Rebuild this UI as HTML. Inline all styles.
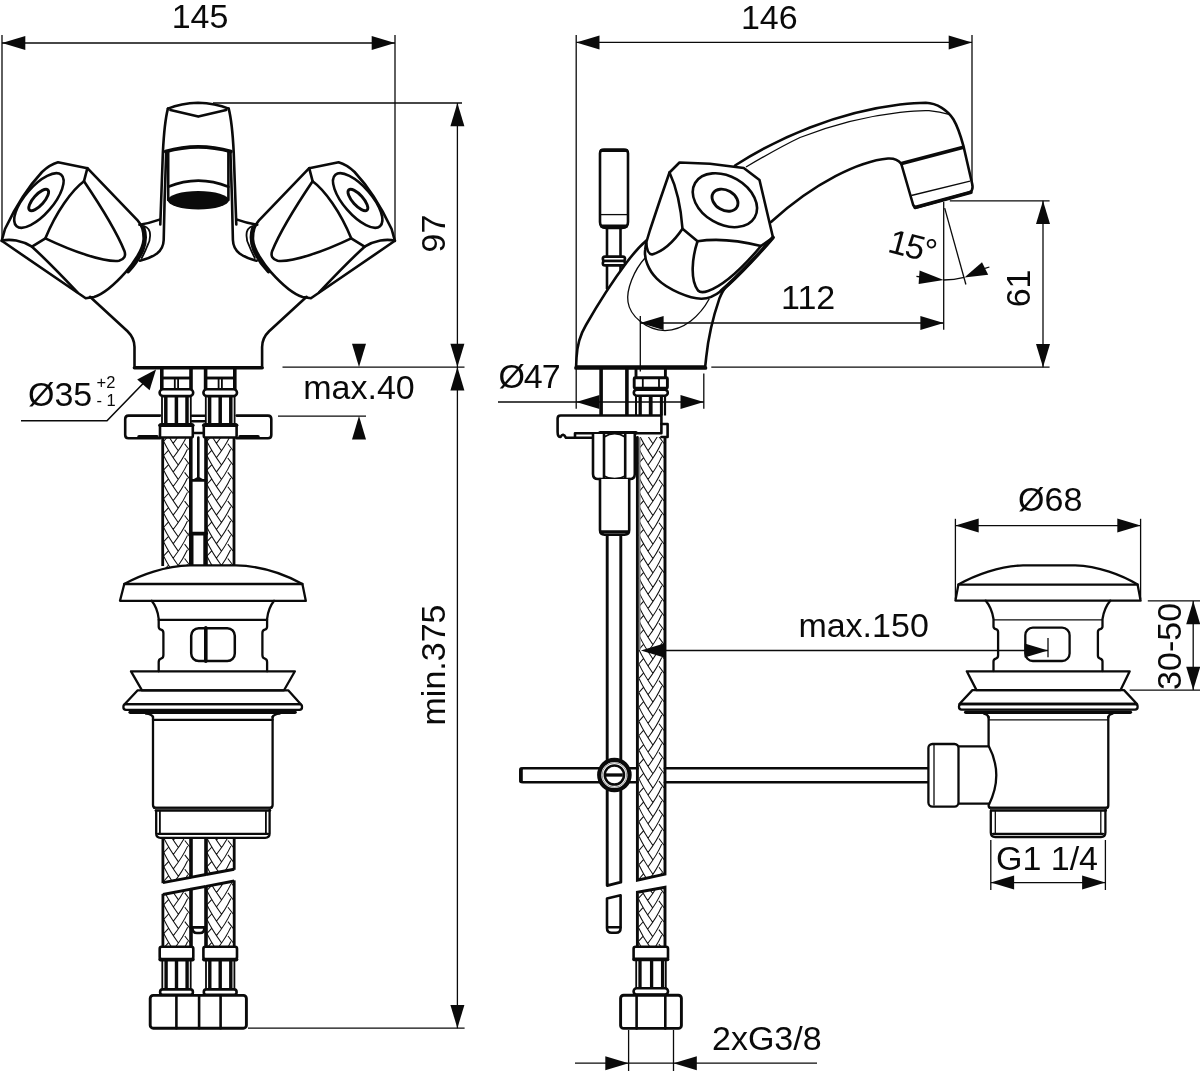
<!DOCTYPE html>
<html lang="en">
<head>
<meta charset="utf-8">
<title>Basin mixer dimensional drawing</title>
<style>
html,body{margin:0;padding:0;background:#fff;}
body{width:1200px;height:1071px;overflow:hidden;}
svg{display:block;opacity:0.999;will-change:transform;}
.k{stroke:#0a0a0a;stroke-width:2.6;fill:none;stroke-linejoin:round;stroke-linecap:round;}
.k3{stroke:#0a0a0a;stroke-width:3.6;fill:none;stroke-linejoin:round;stroke-linecap:round;}
.k25{stroke:#0a0a0a;stroke-width:2.9;fill:none;stroke-linejoin:round;stroke-linecap:butt;}
.w{stroke:#0a0a0a;stroke-width:2.6;fill:#fff;stroke-linejoin:round;stroke-linecap:round;}
.m{stroke:#0a0a0a;stroke-width:1.8;fill:none;stroke-linejoin:round;stroke-linecap:round;}
.t{stroke:#0a0a0a;stroke-width:1.3;fill:none;stroke-linecap:butt;}
.b{stroke:#111;stroke-width:1.05;fill:none;stroke-linecap:butt;}
.dr .k,.dr .w{stroke-width:2.3;}
.f{fill:#0a0a0a;stroke:none;}
text{font-family:"Liberation Sans",sans-serif;fill:#0a0a0a;}
</style>
</head>
<body>
<svg width="1200" height="1071" viewBox="0 0 1200 1071">
<rect x="0" y="0" width="1200" height="1071" fill="#fff"/>
<g id="front-view">
<path class="w" d="M58,162.3 L87.4,168.2 L137.6,220.4 C141.8,225 143.8,232 143.6,239.2 C143,250 132,265 125.9,271.9 C116,283 104,294 94,297 L85.7,298.3 L1.7,240.8 L5,229 C14,210 28,187 42,172 Q50,164.5 58,162.3 Z" />
<path class="k" d="M87.4,168.2 L84,181.2 C72,190 56,212 45.4,238.3 L32,246.7" />
<path class="k" d="M1.7,240.8 C10,238.5 22,240.5 32,246.7 C45,258.5 62,276 77.3,292.1" />
<path class="k" d="M84,181.2 C98,202 116,230 124.4,250.9 Q127,258.5 119,260.8 C104,262.5 72,251 45.4,238.3" />
<ellipse class="k" cx="38.9" cy="200.5" rx="34" ry="14" transform="rotate(-49 38.9 200.5)"/>
<ellipse class="k25" cx="38.7" cy="200" rx="13.6" ry="5.3" transform="rotate(-48 38.7 200)"/>
<path class="k" d="M139.4,224.7 Q149.5,223.2 159.5,219.6" />
<path class="m" d="M140.8,225.7 Q148,226 149.8,232 Q151,240 147.3,246 Q145,252 141.7,258" />
<path class="k3" d="M143.8,228.4 Q147,238 142.9,249.5 Q138,261 128.2,271.6" />
<g transform="translate(396.6,0) scale(-1,1)">
<path class="w" d="M58,162.3 L87.4,168.2 L137.6,220.4 C141.8,225 143.8,232 143.6,239.2 C143,250 132,265 125.9,271.9 C116,283 104,294 94,297 L85.7,298.3 L1.7,240.8 L5,229 C14,210 28,187 42,172 Q50,164.5 58,162.3 Z" />
<path class="k" d="M87.4,168.2 L84,181.2 C72,190 56,212 45.4,238.3 L32,246.7" />
<path class="k" d="M1.7,240.8 C10,238.5 22,240.5 32,246.7 C45,258.5 62,276 77.3,292.1" />
<path class="k" d="M84,181.2 C98,202 116,230 124.4,250.9 Q127,258.5 119,260.8 C104,262.5 72,251 45.4,238.3" />
<ellipse class="k" cx="38.9" cy="200.5" rx="34" ry="14" transform="rotate(-49 38.9 200.5)"/>
<ellipse class="k25" cx="38.7" cy="200" rx="13.6" ry="5.3" transform="rotate(-48 38.7 200)"/>
<path class="k" d="M139.4,224.7 Q149.5,223.2 159.5,219.6" />
<path class="m" d="M140.8,225.7 Q148,226 149.8,232 Q151,240 147.3,246 Q145,252 141.7,258" />
<path class="k3" d="M143.8,228.4 Q147,238 142.9,249.5 Q138,261 128.2,271.6" />
</g>
<path class="k" d="M167.9,108.6 C165.5,118 163.5,140 162.9,152 L160.3,224.5" />
<path class="k" d="M166.2,152 L164.6,200 L163.7,240 Q163.4,248.5 157,253.5 Q150,258.5 139.9,260.7" />
<g transform="translate(396.6,0) scale(-1,1)">
<path class="k" d="M167.9,108.6 C165.5,118 163.5,140 162.9,152 L160.3,224.5" />
<path class="k" d="M166.2,152 L164.6,200 L163.7,240 Q163.4,248.5 157,253.5 Q150,258.5 139.9,260.7" />
</g>
<path class="k" d="M167.9,108.6 Q181,103.2 198,102.7 Q215.5,103.2 228.7,108.6" />
<path class="k" d="M170.4,110 L198.3,116.6 L226.2,110" />
<path class="k3" d="M165.6,151.6 Q198.3,142.2 231,151.6" />
<line class="k" x1="168.2" y1="152" x2="168.2" y2="200" />
<line class="k" x1="228.4" y1="152" x2="228.4" y2="200" />
<path class="k" d="M168.2,186.7 Q198.3,174.5 228.4,186.7" />
<ellipse class="f" cx="198.3" cy="200.3" rx="30.6" ry="9.2"/>
<path class="k" d="M90,296.8 L127.5,331.2 Q134.5,338 134.5,347 L134.5,366" />
<g transform="translate(396.6,0) scale(-1,1)">
<path class="k" d="M90,296.8 L127.5,331.2 Q134.5,338 134.5,347 L134.5,366" />
</g>
<line class="k" x1="134.4" y1="367.7" x2="262.2" y2="367.7" style="stroke-width:3.5"/>
<path class="k" d="M160,415.6 L128.5,415.6 Q125.2,415.6 125.2,419 L125.2,435 Q125.2,438.3 128.5,438.3 L160,438.3" />
<path class="k" d="M236.6,415.6 L268,415.6 Q271.3,415.6 271.3,419 L271.3,435 Q271.3,438.3 268,438.3 L236.6,438.3" />
<line class="k3" x1="139" y1="436.9" x2="157" y2="436.9" />
<line class="k3" x1="240" y1="436.9" x2="258" y2="436.9" />
<line class="k" x1="192" y1="415.7" x2="204.6" y2="415.7" />
<line class="k" x1="192" y1="421.2" x2="204.6" y2="421.2" />
<line class="k" x1="192" y1="433" x2="204.6" y2="433" />
<line class="k3" x1="161.8" y1="368" x2="161.8" y2="390" />
<line class="k3" x1="191.0" y1="368" x2="191.0" y2="390" />
<line class="k25" x1="161.8" y1="378" x2="191.0" y2="378" />
<line class="m" x1="174.8" y1="378" x2="174.8" y2="389.4" />
<line class="m" x1="178.1" y1="378" x2="178.1" y2="389.4" />
<rect class="w" x="159.6" y="389.3" width="33.6" height="6.8" rx="3.4" />
<line class="k" x1="165.8" y1="396.2" x2="165.8" y2="424" style="stroke-width:3.5;stroke-linecap:butt"/>
<line class="k" x1="176.4" y1="396.2" x2="176.4" y2="424" style="stroke-width:3.5;stroke-linecap:butt"/>
<line class="k" x1="187.0" y1="396.2" x2="187.0" y2="424" style="stroke-width:3.5;stroke-linecap:butt"/>
<line class="m" x1="162.0" y1="396.2" x2="162.0" y2="424" />
<line class="m" x1="190.8" y1="396.2" x2="190.8" y2="424" />
<rect class="w" x="160.0" y="424.4" width="32.8" height="13.1" rx="1.5" />
<line class="k3" x1="160.0" y1="425.3" x2="192.8" y2="425.3" />
<line class="k3" x1="205.6" y1="368" x2="205.6" y2="390" />
<line class="k3" x1="234.79999999999998" y1="368" x2="234.79999999999998" y2="390" />
<line class="k25" x1="205.6" y1="378" x2="234.79999999999998" y2="378" />
<line class="m" x1="218.6" y1="378" x2="218.6" y2="389.4" />
<line class="m" x1="221.89999999999998" y1="378" x2="221.89999999999998" y2="389.4" />
<rect class="w" x="203.39999999999998" y="389.3" width="33.6" height="6.8" rx="3.4" />
<line class="k" x1="209.6" y1="396.2" x2="209.6" y2="424" style="stroke-width:3.5;stroke-linecap:butt"/>
<line class="k" x1="220.2" y1="396.2" x2="220.2" y2="424" style="stroke-width:3.5;stroke-linecap:butt"/>
<line class="k" x1="230.79999999999998" y1="396.2" x2="230.79999999999998" y2="424" style="stroke-width:3.5;stroke-linecap:butt"/>
<line class="m" x1="205.79999999999998" y1="396.2" x2="205.79999999999998" y2="424" />
<line class="m" x1="234.6" y1="396.2" x2="234.6" y2="424" />
<rect class="w" x="203.79999999999998" y="424.4" width="32.8" height="13.1" rx="1.5" />
<line class="k3" x1="203.79999999999998" y1="425.3" x2="236.6" y2="425.3" />
<clipPath id="fb0a"><path d="M163.7,437.5 L189.8,437.5 L189.8,568 L163.7,568 Z"/></clipPath>
<g clip-path="url(#fb0a)" class="b">
<path d="M163.70,384.10 Q168.92,394.70 178.06,407.40 M187.45,391.90 Q182.49,402.70 173.10,414.70 M168.14,393.30 L163.70,398.10 M184.58,386.30 L189.80,393.10 M163.70,398.45 Q168.92,409.05 178.06,421.75 M187.45,406.25 Q182.49,417.05 173.10,429.05 M168.14,407.65 L163.70,412.45 M184.58,400.65 L189.80,407.45 M163.70,412.80 Q168.92,423.40 178.06,436.10 M187.45,420.60 Q182.49,431.40 173.10,443.40 M168.14,422.00 L163.70,426.80 M184.58,415.00 L189.80,421.80 M163.70,427.15 Q168.92,437.75 178.06,450.45 M187.45,434.95 Q182.49,445.75 173.10,457.75 M168.14,436.35 L163.70,441.15 M184.58,429.35 L189.80,436.15 M163.70,441.50 Q168.92,452.10 178.06,464.80 M187.45,449.30 Q182.49,460.10 173.10,472.10 M168.14,450.70 L163.70,455.50 M184.58,443.70 L189.80,450.50 M163.70,455.85 Q168.92,466.45 178.06,479.15 M187.45,463.65 Q182.49,474.45 173.10,486.45 M168.14,465.05 L163.70,469.85 M184.58,458.05 L189.80,464.85 M163.70,470.20 Q168.92,480.80 178.06,493.50 M187.45,478.00 Q182.49,488.80 173.10,500.80 M168.14,479.40 L163.70,484.20 M184.58,472.40 L189.80,479.20 M163.70,484.55 Q168.92,495.15 178.06,507.85 M187.45,492.35 Q182.49,503.15 173.10,515.15 M168.14,493.75 L163.70,498.55 M184.58,486.75 L189.80,493.55 M163.70,498.90 Q168.92,509.50 178.06,522.20 M187.45,506.70 Q182.49,517.50 173.10,529.50 M168.14,508.10 L163.70,512.90 M184.58,501.10 L189.80,507.90 M163.70,513.25 Q168.92,523.85 178.06,536.55 M187.45,521.05 Q182.49,531.85 173.10,543.85 M168.14,522.45 L163.70,527.25 M184.58,515.45 L189.80,522.25 M163.70,527.60 Q168.92,538.20 178.06,550.90 M187.45,535.40 Q182.49,546.20 173.10,558.20 M168.14,536.80 L163.70,541.60 M184.58,529.80 L189.80,536.60 M163.70,541.95 Q168.92,552.55 178.06,565.25 M187.45,549.75 Q182.49,560.55 173.10,572.55 M168.14,551.15 L163.70,555.95 M184.58,544.15 L189.80,550.95 M163.70,556.30 Q168.92,566.90 178.06,579.60 M187.45,564.10 Q182.49,574.90 173.10,586.90 M168.14,565.50 L163.70,570.30 M184.58,558.50 L189.80,565.30 M163.70,570.65 Q168.92,581.25 178.06,593.95 M187.45,578.45 Q182.49,589.25 173.10,601.25 M168.14,579.85 L163.70,584.65 M184.58,572.85 L189.80,579.65"/>
</g>
<line class="k" x1="162.7" y1="437.5" x2="162.7" y2="566" style="stroke-width:2.8;stroke-linecap:butt"/>
<line class="k" x1="190.8" y1="437.5" x2="190.8" y2="566" style="stroke-width:3.6;stroke-linecap:butt"/>
<clipPath id="fb1a"><path d="M207,437.5 L233,437.5 L233,568 L207,568 Z"/></clipPath>
<g clip-path="url(#fb1a)" class="b">
<path d="M207.00,384.10 Q212.20,394.70 221.30,407.40 M230.66,391.90 Q225.72,402.70 216.36,414.70 M211.42,393.30 L207.00,398.10 M227.80,386.30 L233.00,393.10 M207.00,398.45 Q212.20,409.05 221.30,421.75 M230.66,406.25 Q225.72,417.05 216.36,429.05 M211.42,407.65 L207.00,412.45 M227.80,400.65 L233.00,407.45 M207.00,412.80 Q212.20,423.40 221.30,436.10 M230.66,420.60 Q225.72,431.40 216.36,443.40 M211.42,422.00 L207.00,426.80 M227.80,415.00 L233.00,421.80 M207.00,427.15 Q212.20,437.75 221.30,450.45 M230.66,434.95 Q225.72,445.75 216.36,457.75 M211.42,436.35 L207.00,441.15 M227.80,429.35 L233.00,436.15 M207.00,441.50 Q212.20,452.10 221.30,464.80 M230.66,449.30 Q225.72,460.10 216.36,472.10 M211.42,450.70 L207.00,455.50 M227.80,443.70 L233.00,450.50 M207.00,455.85 Q212.20,466.45 221.30,479.15 M230.66,463.65 Q225.72,474.45 216.36,486.45 M211.42,465.05 L207.00,469.85 M227.80,458.05 L233.00,464.85 M207.00,470.20 Q212.20,480.80 221.30,493.50 M230.66,478.00 Q225.72,488.80 216.36,500.80 M211.42,479.40 L207.00,484.20 M227.80,472.40 L233.00,479.20 M207.00,484.55 Q212.20,495.15 221.30,507.85 M230.66,492.35 Q225.72,503.15 216.36,515.15 M211.42,493.75 L207.00,498.55 M227.80,486.75 L233.00,493.55 M207.00,498.90 Q212.20,509.50 221.30,522.20 M230.66,506.70 Q225.72,517.50 216.36,529.50 M211.42,508.10 L207.00,512.90 M227.80,501.10 L233.00,507.90 M207.00,513.25 Q212.20,523.85 221.30,536.55 M230.66,521.05 Q225.72,531.85 216.36,543.85 M211.42,522.45 L207.00,527.25 M227.80,515.45 L233.00,522.25 M207.00,527.60 Q212.20,538.20 221.30,550.90 M230.66,535.40 Q225.72,546.20 216.36,558.20 M211.42,536.80 L207.00,541.60 M227.80,529.80 L233.00,536.60 M207.00,541.95 Q212.20,552.55 221.30,565.25 M230.66,549.75 Q225.72,560.55 216.36,572.55 M211.42,551.15 L207.00,555.95 M227.80,544.15 L233.00,550.95 M207.00,556.30 Q212.20,566.90 221.30,579.60 M230.66,564.10 Q225.72,574.90 216.36,586.90 M211.42,565.50 L207.00,570.30 M227.80,558.50 L233.00,565.30 M207.00,570.65 Q212.20,581.25 221.30,593.95 M230.66,578.45 Q225.72,589.25 216.36,601.25 M211.42,579.85 L207.00,584.65 M227.80,572.85 L233.00,579.65"/>
</g>
<line class="k" x1="206" y1="437.5" x2="206" y2="566" style="stroke-width:3.6;stroke-linecap:butt"/>
<line class="k" x1="234" y1="437.5" x2="234" y2="566" style="stroke-width:2.8;stroke-linecap:butt"/>
<line class="k" x1="198.3" y1="437.5" x2="198.3" y2="477" />
<polygon class="f" points="191.2,480.6 198.3,476.6 205.4,480.6"/>
<line class="k" x1="190.3" y1="480.4" x2="206.3" y2="480.4" />
<line class="k3" x1="190.3" y1="533.6" x2="206.3" y2="533.6" />
<line class="k" x1="192.2" y1="533.6" x2="192.2" y2="566" />
<line class="k" x1="204.6" y1="533.6" x2="204.6" y2="566" />
<g class="dr">
<path class="w" d="M124.3,584 C140,575 165,566 190,565.4 L236,565.4 C262,566 286,575 302.4,584 L305.8,600.8 L120,600.8 Z" />
<line class="k" x1="124.3" y1="584" x2="302.4" y2="584" />
<path class="k" d="M151.7,600.8 Q157.5,608 158.7,618.8 L158.7,626.4 Q158.7,629 161,629.6 Q163.4,630.2 163.4,633 L163.4,655 Q163.4,658 161,658.6 Q158.7,659.3 158.7,662 L158.7,671.3" />
<g transform="translate(425.8,0) scale(-1,1)">
<path class="k" d="M151.7,600.8 Q157.5,608 158.7,618.8 L158.7,626.4 Q158.7,629 161,629.6 Q163.4,630.2 163.4,633 L163.4,655 Q163.4,658 161,658.6 Q158.7,659.3 158.7,662 L158.7,671.3" />
</g>
<line class="k" x1="158.7" y1="619.8" x2="267.1" y2="619.8" />
<rect class="k" x="191.2" y="628.2" width="43.6" height="32.8" rx="7.5" style="stroke-width:2.5"/>
<line class="k3" x1="205.8" y1="627.7" x2="205.8" y2="661.3" />
<path class="k" d="M131,671.3 L294.9,671.3 L284,690.3 L142,690.3 Z" />
<path class="k" d="M137.7,690.3 L288.2,690.3 L300.8,704.2 L124.6,704.2 Z" />
<rect class="k" x="123.4" y="704.2" width="178.6" height="5.6" rx="2.6" />
<line class="k3" x1="130.2" y1="712.2" x2="295" y2="712.2" />
<path class="k" d="M146,713.6 Q152,714.2 153,717" />
<path class="k" d="M279.6,713.6 Q273.6,714.2 272.6,717" />
<line class="k" x1="153" y1="719.8" x2="272.6" y2="719.8" />
<path class="k" d="M153,716.8 L153,805 Q153,807.8 156,807.8 L269.6,807.8 Q272.6,807.8 272.6,805 L272.6,716.8" />
<line class="k" x1="154" y1="807.8" x2="271.6" y2="807.8" />
<line class="k" x1="155.6" y1="810.6" x2="270.2" y2="810.6" />
<line class="t" x1="155" y1="809.2" x2="271" y2="809.2" style="stroke:#3a3a3a;stroke-width:1.4"/>
<path class="k" d="M156.2,811 L156.2,833.5 Q156.2,837.8 160.5,837.8 L265.2,837.8 Q269.6,837.8 269.6,833.5 L269.6,810" />
<line class="m" x1="159.9" y1="811.6" x2="159.9" y2="833.6" />
<line class="m" x1="265.9" y1="811.6" x2="265.9" y2="833.6" />
<line class="k" x1="158" y1="833.8" x2="268" y2="833.8" />
</g>
<clipPath id="fl0u"><path d="M162.9,838 L191,838 L191,877.34 L162.9,882.61 Z"/></clipPath>
<g clip-path="url(#fl0u)" class="b">
<path d="M163.90,780.90 Q169.12,791.50 178.25,804.20 M187.65,788.70 Q182.69,799.50 173.30,811.50 M168.34,790.10 L163.90,794.90 M184.78,783.10 L190.00,789.90 M163.90,795.25 Q169.12,805.85 178.25,818.55 M187.65,803.05 Q182.69,813.85 173.30,825.85 M168.34,804.45 L163.90,809.25 M184.78,797.45 L190.00,804.25 M163.90,809.60 Q169.12,820.20 178.25,832.90 M187.65,817.40 Q182.69,828.20 173.30,840.20 M168.34,818.80 L163.90,823.60 M184.78,811.80 L190.00,818.60 M163.90,823.95 Q169.12,834.55 178.25,847.25 M187.65,831.75 Q182.69,842.55 173.30,854.55 M168.34,833.15 L163.90,837.95 M184.78,826.15 L190.00,832.95 M163.90,838.30 Q169.12,848.90 178.25,861.60 M187.65,846.10 Q182.69,856.90 173.30,868.90 M168.34,847.50 L163.90,852.30 M184.78,840.50 L190.00,847.30 M163.90,852.65 Q169.12,863.25 178.25,875.95 M187.65,860.45 Q182.69,871.25 173.30,883.25 M168.34,861.85 L163.90,866.65 M184.78,854.85 L190.00,861.65 M163.90,867.00 Q169.12,877.60 178.25,890.30 M187.65,874.80 Q182.69,885.60 173.30,897.60 M168.34,876.20 L163.90,881.00 M184.78,869.20 L190.00,876.00 M163.90,881.35 Q169.12,891.95 178.25,904.65 M187.65,889.15 Q182.69,899.95 173.30,911.95 M168.34,890.55 L163.90,895.35 M184.78,883.55 L190.00,890.35 M163.90,895.70 Q169.12,906.30 178.25,919.00 M187.65,903.50 Q182.69,914.30 173.30,926.30 M168.34,904.90 L163.90,909.70 M184.78,897.90 L190.00,904.70"/>
</g>
<path class="k25" d="M162.9,882.61 L191,877.34" />
<line class="k" x1="162.9" y1="838.5" x2="162.9" y2="883.2062500000001" style="stroke-width:2.8;stroke-linecap:butt"/>
<line class="k" x1="191" y1="838.5" x2="191" y2="877.9375000000001" style="stroke-width:3.6;stroke-linecap:butt"/>
<clipPath id="fl0l"><path d="M162.9,894.52 L191,889.18 L191,947 L162.9,947 Z"/></clipPath>
<g clip-path="url(#fl0l)" class="b">
<path d="M163.90,818.95 Q169.12,829.55 178.25,842.25 M187.65,826.75 Q182.69,837.55 173.30,849.55 M168.34,828.15 L163.90,832.95 M184.78,821.15 L190.00,827.95 M163.90,833.30 Q169.12,843.90 178.25,856.60 M187.65,841.10 Q182.69,851.90 173.30,863.90 M168.34,842.50 L163.90,847.30 M184.78,835.50 L190.00,842.30 M163.90,847.65 Q169.12,858.25 178.25,870.95 M187.65,855.45 Q182.69,866.25 173.30,878.25 M168.34,856.85 L163.90,861.65 M184.78,849.85 L190.00,856.65 M163.90,862.00 Q169.12,872.60 178.25,885.30 M187.65,869.80 Q182.69,880.60 173.30,892.60 M168.34,871.20 L163.90,876.00 M184.78,864.20 L190.00,871.00 M163.90,876.35 Q169.12,886.95 178.25,899.65 M187.65,884.15 Q182.69,894.95 173.30,906.95 M168.34,885.55 L163.90,890.35 M184.78,878.55 L190.00,885.35 M163.90,890.70 Q169.12,901.30 178.25,914.00 M187.65,898.50 Q182.69,909.30 173.30,921.30 M168.34,899.90 L163.90,904.70 M184.78,892.90 L190.00,899.70 M163.90,905.05 Q169.12,915.65 178.25,928.35 M187.65,912.85 Q182.69,923.65 173.30,935.65 M168.34,914.25 L163.90,919.05 M184.78,907.25 L190.00,914.05 M163.90,919.40 Q169.12,930.00 178.25,942.70 M187.65,927.20 Q182.69,938.00 173.30,950.00 M168.34,928.60 L163.90,933.40 M184.78,921.60 L190.00,928.40 M163.90,933.75 Q169.12,944.35 178.25,957.05 M187.65,941.55 Q182.69,952.35 173.30,964.35 M168.34,942.95 L163.90,947.75 M184.78,935.95 L190.00,942.75 M163.90,948.10 Q169.12,958.70 178.25,971.40 M187.65,955.90 Q182.69,966.70 173.30,978.70 M168.34,957.30 L163.90,962.10 M184.78,950.30 L190.00,957.10"/>
</g>
<path class="k25" d="M162.9,894.52 L191,889.18" />
<line class="k" x1="162.9" y1="893.919014084507" x2="162.9" y2="946.5" style="stroke-width:2.8;stroke-linecap:butt"/>
<line class="k" x1="191" y1="888.5760563380281" x2="191" y2="946.5" style="stroke-width:3.6;stroke-linecap:butt"/>
<clipPath id="fl1u"><path d="M206,838 L234.2,838 L234.2,869.24 L206,874.53 Z"/></clipPath>
<g clip-path="url(#fl1u)" class="b">
<path d="M207.00,780.90 Q212.24,791.50 221.41,804.20 M230.84,788.70 Q225.86,799.50 216.43,811.50 M211.45,790.10 L207.00,794.90 M227.96,783.10 L233.20,789.90 M207.00,795.25 Q212.24,805.85 221.41,818.55 M230.84,803.05 Q225.86,813.85 216.43,825.85 M211.45,804.45 L207.00,809.25 M227.96,797.45 L233.20,804.25 M207.00,809.60 Q212.24,820.20 221.41,832.90 M230.84,817.40 Q225.86,828.20 216.43,840.20 M211.45,818.80 L207.00,823.60 M227.96,811.80 L233.20,818.60 M207.00,823.95 Q212.24,834.55 221.41,847.25 M230.84,831.75 Q225.86,842.55 216.43,854.55 M211.45,833.15 L207.00,837.95 M227.96,826.15 L233.20,832.95 M207.00,838.30 Q212.24,848.90 221.41,861.60 M230.84,846.10 Q225.86,856.90 216.43,868.90 M211.45,847.50 L207.00,852.30 M227.96,840.50 L233.20,847.30 M207.00,852.65 Q212.24,863.25 221.41,875.95 M230.84,860.45 Q225.86,871.25 216.43,883.25 M211.45,861.85 L207.00,866.65 M227.96,854.85 L233.20,861.65 M207.00,867.00 Q212.24,877.60 221.41,890.30 M230.84,874.80 Q225.86,885.60 216.43,897.60 M211.45,876.20 L207.00,881.00 M227.96,869.20 L233.20,876.00 M207.00,881.35 Q212.24,891.95 221.41,904.65 M230.84,889.15 Q225.86,899.95 216.43,911.95 M211.45,890.55 L207.00,895.35 M227.96,883.55 L233.20,890.35 M207.00,895.70 Q212.24,906.30 221.41,919.00 M230.84,903.50 Q225.86,914.30 216.43,926.30 M211.45,904.90 L207.00,909.70 M227.96,897.90 L233.20,904.70"/>
</g>
<path class="k25" d="M206,874.53 L234.2,869.24" />
<line class="k" x1="206" y1="838.5" x2="206" y2="875.1250000000001" style="stroke-width:3.6;stroke-linecap:butt"/>
<line class="k" x1="234.2" y1="838.5" x2="234.2" y2="869.8375000000001" style="stroke-width:2.8;stroke-linecap:butt"/>
<clipPath id="fl1l"><path d="M206,886.32 L234.2,880.96 L234.2,947 L206,947 Z"/></clipPath>
<g clip-path="url(#fl1l)" class="b">
<path d="M207.00,818.95 Q212.24,829.55 221.41,842.25 M230.84,826.75 Q225.86,837.55 216.43,849.55 M211.45,828.15 L207.00,832.95 M227.96,821.15 L233.20,827.95 M207.00,833.30 Q212.24,843.90 221.41,856.60 M230.84,841.10 Q225.86,851.90 216.43,863.90 M211.45,842.50 L207.00,847.30 M227.96,835.50 L233.20,842.30 M207.00,847.65 Q212.24,858.25 221.41,870.95 M230.84,855.45 Q225.86,866.25 216.43,878.25 M211.45,856.85 L207.00,861.65 M227.96,849.85 L233.20,856.65 M207.00,862.00 Q212.24,872.60 221.41,885.30 M230.84,869.80 Q225.86,880.60 216.43,892.60 M211.45,871.20 L207.00,876.00 M227.96,864.20 L233.20,871.00 M207.00,876.35 Q212.24,886.95 221.41,899.65 M230.84,884.15 Q225.86,894.95 216.43,906.95 M211.45,885.55 L207.00,890.35 M227.96,878.55 L233.20,885.35 M207.00,890.70 Q212.24,901.30 221.41,914.00 M230.84,898.50 Q225.86,909.30 216.43,921.30 M211.45,899.90 L207.00,904.70 M227.96,892.90 L233.20,899.70 M207.00,905.05 Q212.24,915.65 221.41,928.35 M230.84,912.85 Q225.86,923.65 216.43,935.65 M211.45,914.25 L207.00,919.05 M227.96,907.25 L233.20,914.05 M207.00,919.40 Q212.24,930.00 221.41,942.70 M230.84,927.20 Q225.86,938.00 216.43,950.00 M211.45,928.60 L207.00,933.40 M227.96,921.60 L233.20,928.40 M207.00,933.75 Q212.24,944.35 221.41,957.05 M230.84,941.55 Q225.86,952.35 216.43,964.35 M211.45,942.95 L207.00,947.75 M227.96,935.95 L233.20,942.75 M207.00,948.10 Q212.24,958.70 221.41,971.40 M230.84,955.90 Q225.86,966.70 216.43,978.70 M211.45,957.30 L207.00,962.10 M227.96,950.30 L233.20,957.10"/>
</g>
<path class="k25" d="M206,886.32 L234.2,880.96" />
<line class="k" x1="206" y1="885.7239436619718" x2="206" y2="946.5" style="stroke-width:3.6;stroke-linecap:butt"/>
<line class="k" x1="234.2" y1="880.3619718309859" x2="234.2" y2="946.5" style="stroke-width:2.8;stroke-linecap:butt"/>
<line class="k25" x1="190.6" y1="877.4125" x2="205.9" y2="874.54375" />
<line class="k25" x1="190.6" y1="889.2521126760563" x2="205.9" y2="886.3429577464789" />
<path class="k" d="M192.4,928 Q192.4,933 197,933 L200,933 Q204.4,933 204.4,928" />
<line class="k" x1="192.4" y1="927.4" x2="204.4" y2="927.4" />
<rect class="w" x="159.7" y="946.8" width="33.6" height="12.4" rx="2" />
<line class="k3" x1="160.1" y1="959.6" x2="192.9" y2="959.6" />
<line class="k" x1="166.1" y1="961" x2="166.1" y2="989.4" style="stroke-width:3.4;stroke-linecap:butt"/>
<line class="k" x1="176.5" y1="961" x2="176.5" y2="989.4" style="stroke-width:3.4;stroke-linecap:butt"/>
<line class="k" x1="187.1" y1="961" x2="187.1" y2="989.4" style="stroke-width:3.4;stroke-linecap:butt"/>
<line class="m" x1="162.3" y1="961" x2="162.3" y2="989.4" />
<line class="m" x1="190.7" y1="961" x2="190.7" y2="989.4" />
<rect class="w" x="160.1" y="989.4" width="32.8" height="5.4" rx="2.6" />
<rect class="w" x="203.39999999999998" y="946.8" width="33.6" height="12.4" rx="2" />
<line class="k3" x1="203.79999999999998" y1="959.6" x2="236.6" y2="959.6" />
<line class="k" x1="209.79999999999998" y1="961" x2="209.79999999999998" y2="989.4" style="stroke-width:3.4;stroke-linecap:butt"/>
<line class="k" x1="220.2" y1="961" x2="220.2" y2="989.4" style="stroke-width:3.4;stroke-linecap:butt"/>
<line class="k" x1="230.79999999999998" y1="961" x2="230.79999999999998" y2="989.4" style="stroke-width:3.4;stroke-linecap:butt"/>
<line class="m" x1="206.0" y1="961" x2="206.0" y2="989.4" />
<line class="m" x1="234.39999999999998" y1="961" x2="234.39999999999998" y2="989.4" />
<rect class="w" x="203.79999999999998" y="989.4" width="32.8" height="5.4" rx="2.6" />
<rect class="k25" x="150.2" y="995.4" width="96.2" height="32.8" rx="3" />
<line class="k" x1="176.4" y1="995.4" x2="176.4" y2="1028.2" />
<line class="k" x1="199.1" y1="995.4" x2="199.1" y2="1028.2" />
<line class="k" x1="220.6" y1="995.4" x2="220.6" y2="1028.2" />
</g>
<g id="side-view">
<line class="k" x1="607" y1="228" x2="607" y2="288.5" />
<line class="k" x1="620.5" y1="228" x2="620.5" y2="274" />
<path class="w" d="M600,153.5 Q600,149.6 604,149.6 L624,149.6 Q628,149.6 628,153.5 L628,222 Q628,228 622,228 L606,228 Q600,228 600,222 Z" />
<line class="k" x1="601" y1="150.6" x2="627" y2="150.6" />
<line class="t" x1="600" y1="214.6" x2="628" y2="214.6" />
<line class="k3" x1="602" y1="226.4" x2="626" y2="226.4" />
<rect class="w" x="602.8" y="256.6" width="22.2" height="4.4" rx="2.2" />
<rect class="w" x="602.8" y="261" width="22.2" height="4.4" rx="2.2" />
<path class="w" d="M735,165.5 Q770,143 810,127.5 Q855,110 900,104.5 Q915,102.7 925.8,102.7 C937,103 948,110.5 953.5,119.5 Q958.5,128 963.4,145.8 L972.2,184 Q973.6,190.6 969.5,192.4 L918,207 Q914.4,208 913.2,205 L901.25,163.75 Q897,158 888,158.5 C860,161 815,182 771,222" />
<path class="t" d="M746,167 Q780,147 800,137.5 Q850,118 900,112.4 Q918,110.2 929,110.6 Q940,111.6 949,114.4" style="stroke-width:1.3"/>
<line class="k3" x1="901.6" y1="163.6" x2="962.5" y2="147.6" />
<line class="t" x1="911.3" y1="195.5" x2="970" y2="181.2" />
<line class="k3" x1="915" y1="207.4" x2="971" y2="192.2" />
<path class="w" d="M576.1,366.5 L576.5,358 C577,345 580,335 586,325 C598,304 612,282 626.6,262.5 C633,254 640,246 646.7,240.3 L727.4,284.7 Q723,290 719.3,298.8 C712,320 708,340 706.2,357.3 L705.2,366.5 Z" />
<line class="k" x1="576" y1="367.9" x2="705.4" y2="367.9" style="stroke-width:3.8"/>
<path class="t" d="M645,258 C634,270 626,290 628,302 C630,316 646,330 665,330.6 C684,330 700,316 709.3,298.8" style="stroke-width:1.3"/>
<path class="w" d="M679.5,162.5 L710,163.75 L743.75,168 L759.5,180 L773,237.5 C765,247 740,275 721.3,290.8 Q711,299 701.2,298.8 C690,298.5 668,290 656.8,278.7 C648,270 644,258 645.2,250 Q645.6,246 646.25,242.5 L650,230 L660,200 L669.5,172.5 Z" />
<path class="k3" d="M773,237.5 C765,247 740,275 721.3,290.8" />
<path class="k" d="M669.5,172.5 Q680,195 682.5,228.75 L697.5,241.25 Q725,237 761,246 L773,237.5" />
<path class="k" d="M646.3,243 Q647,254 652,254.5 Q668,250 682.5,228.75" />
<path class="k" d="M697.5,241.25 C692,258 690,280 698,290.5 Q701,293.5 708,291 C725,285 745,265 761,246" />
<ellipse class="k" cx="724.9" cy="200.2" rx="34.4" ry="24" transform="rotate(30 724.9 200.2)"/>
<ellipse class="k25" cx="725" cy="200.2" rx="13.8" ry="10" transform="rotate(30 725 200.2)"/>
<line class="k3" x1="601.1" y1="369" x2="601.1" y2="415.5" />
<line class="k3" x1="626.9" y1="369" x2="626.9" y2="415.5" />
<line class="k25" x1="636" y1="369" x2="636" y2="378" />
<line class="k25" x1="665.4" y1="369" x2="665.4" y2="378" />
<rect class="k25" x="634.2" y="377.7" width="33.2" height="10.6" rx="1" />
<line class="m" x1="642.8" y1="378" x2="642.8" y2="388" />
<line class="m" x1="659" y1="378" x2="659" y2="388" />
<rect class="w" x="633.8" y="389.6" width="34" height="6.2" rx="3.1" />
<line class="k" x1="636" y1="395.8" x2="636" y2="415.5" style="stroke-width:2;stroke-linecap:butt"/>
<line class="k" x1="640.2" y1="395.8" x2="640.2" y2="415.5" style="stroke-width:3.3;stroke-linecap:butt"/>
<line class="k" x1="650.7" y1="395.8" x2="650.7" y2="415.5" style="stroke-width:3.8;stroke-linecap:butt"/>
<line class="k" x1="661.4" y1="395.8" x2="661.4" y2="415.5" style="stroke-width:3;stroke-linecap:butt"/>
<line class="k" x1="665" y1="395.8" x2="665" y2="415.5" style="stroke-width:2.2;stroke-linecap:butt"/>
<path class="w" d="M557.6,418.5 Q557.6,415.5 560.6,415.5 L661.4,415.5 L661.4,433.3 L575,433.3 L575,437.8 L566,437.8 Q563,432 560.6,437 Q557.6,437 557.6,432 Z" />
<path class="k" d="M661.4,424 L667.6,424 L667.6,437 L661.4,437" />
<line class="k" x1="576" y1="437.8" x2="600" y2="437.8" />
<line class="k3" x1="600" y1="432.8" x2="636" y2="432.8" />
<path class="w" d="M593,434 L593,474 Q593,479 598,479 L630,479 Q634.8,479 634.8,474 L634.8,434" />
<line class="k" x1="604" y1="434" x2="604" y2="479" />
<line class="k" x1="625.2" y1="434" x2="625.2" y2="479" />
<path class="m" d="M604,437 Q614.6,430 625.2,437" />
<path class="m" d="M604,476 Q614.6,482 625.2,476" />
<path class="w" d="M600,479 L600,530 Q600,534.6 604.6,534.6 L624.6,534.6 Q629.2,534.6 629.2,530 L629.2,479" />
<line class="k" x1="601" y1="531.6" x2="628" y2="531.6" />
<path class="k25" d="M607.2,534.6 L607.2,885.6 L620.8,882.2 L620.8,534.6" />
<path class="w" d="M607,898.4 L620.6,895.3 L620.6,928 Q620.6,932.8 616,932.8 L611.6,932.8 Q607,932.8 607,928 Z" />
<line class="k" x1="608" y1="927.2" x2="620" y2="927.2" />
<clipPath id="sh1"><path d="M637.4,437 L665,437 L665,874.2 L637.4,880.2 Z"/></clipPath>
<g clip-path="url(#sh1)" class="b">
<path d="M639.00,391.45 Q644.00,402.05 652.75,414.75 M661.75,399.25 Q657.00,410.05 648.00,422.05 M643.25,400.65 L639.00,405.45 M659.00,393.65 L664.00,400.45 M639.00,405.80 Q644.00,416.40 652.75,429.10 M661.75,413.60 Q657.00,424.40 648.00,436.40 M643.25,415.00 L639.00,419.80 M659.00,408.00 L664.00,414.80 M639.00,420.15 Q644.00,430.75 652.75,443.45 M661.75,427.95 Q657.00,438.75 648.00,450.75 M643.25,429.35 L639.00,434.15 M659.00,422.35 L664.00,429.15 M639.00,434.50 Q644.00,445.10 652.75,457.80 M661.75,442.30 Q657.00,453.10 648.00,465.10 M643.25,443.70 L639.00,448.50 M659.00,436.70 L664.00,443.50 M639.00,448.85 Q644.00,459.45 652.75,472.15 M661.75,456.65 Q657.00,467.45 648.00,479.45 M643.25,458.05 L639.00,462.85 M659.00,451.05 L664.00,457.85 M639.00,463.20 Q644.00,473.80 652.75,486.50 M661.75,471.00 Q657.00,481.80 648.00,493.80 M643.25,472.40 L639.00,477.20 M659.00,465.40 L664.00,472.20 M639.00,477.55 Q644.00,488.15 652.75,500.85 M661.75,485.35 Q657.00,496.15 648.00,508.15 M643.25,486.75 L639.00,491.55 M659.00,479.75 L664.00,486.55 M639.00,491.90 Q644.00,502.50 652.75,515.20 M661.75,499.70 Q657.00,510.50 648.00,522.50 M643.25,501.10 L639.00,505.90 M659.00,494.10 L664.00,500.90 M639.00,506.25 Q644.00,516.85 652.75,529.55 M661.75,514.05 Q657.00,524.85 648.00,536.85 M643.25,515.45 L639.00,520.25 M659.00,508.45 L664.00,515.25 M639.00,520.60 Q644.00,531.20 652.75,543.90 M661.75,528.40 Q657.00,539.20 648.00,551.20 M643.25,529.80 L639.00,534.60 M659.00,522.80 L664.00,529.60 M639.00,534.95 Q644.00,545.55 652.75,558.25 M661.75,542.75 Q657.00,553.55 648.00,565.55 M643.25,544.15 L639.00,548.95 M659.00,537.15 L664.00,543.95 M639.00,549.30 Q644.00,559.90 652.75,572.60 M661.75,557.10 Q657.00,567.90 648.00,579.90 M643.25,558.50 L639.00,563.30 M659.00,551.50 L664.00,558.30 M639.00,563.65 Q644.00,574.25 652.75,586.95 M661.75,571.45 Q657.00,582.25 648.00,594.25 M643.25,572.85 L639.00,577.65 M659.00,565.85 L664.00,572.65 M639.00,578.00 Q644.00,588.60 652.75,601.30 M661.75,585.80 Q657.00,596.60 648.00,608.60 M643.25,587.20 L639.00,592.00 M659.00,580.20 L664.00,587.00 M639.00,592.35 Q644.00,602.95 652.75,615.65 M661.75,600.15 Q657.00,610.95 648.00,622.95 M643.25,601.55 L639.00,606.35 M659.00,594.55 L664.00,601.35 M639.00,606.70 Q644.00,617.30 652.75,630.00 M661.75,614.50 Q657.00,625.30 648.00,637.30 M643.25,615.90 L639.00,620.70 M659.00,608.90 L664.00,615.70 M639.00,621.05 Q644.00,631.65 652.75,644.35 M661.75,628.85 Q657.00,639.65 648.00,651.65 M643.25,630.25 L639.00,635.05 M659.00,623.25 L664.00,630.05 M639.00,635.40 Q644.00,646.00 652.75,658.70 M661.75,643.20 Q657.00,654.00 648.00,666.00 M643.25,644.60 L639.00,649.40 M659.00,637.60 L664.00,644.40 M639.00,649.75 Q644.00,660.35 652.75,673.05 M661.75,657.55 Q657.00,668.35 648.00,680.35 M643.25,658.95 L639.00,663.75 M659.00,651.95 L664.00,658.75 M639.00,664.10 Q644.00,674.70 652.75,687.40 M661.75,671.90 Q657.00,682.70 648.00,694.70 M643.25,673.30 L639.00,678.10 M659.00,666.30 L664.00,673.10 M639.00,678.45 Q644.00,689.05 652.75,701.75 M661.75,686.25 Q657.00,697.05 648.00,709.05 M643.25,687.65 L639.00,692.45 M659.00,680.65 L664.00,687.45 M639.00,692.80 Q644.00,703.40 652.75,716.10 M661.75,700.60 Q657.00,711.40 648.00,723.40 M643.25,702.00 L639.00,706.80 M659.00,695.00 L664.00,701.80 M639.00,707.15 Q644.00,717.75 652.75,730.45 M661.75,714.95 Q657.00,725.75 648.00,737.75 M643.25,716.35 L639.00,721.15 M659.00,709.35 L664.00,716.15 M639.00,721.50 Q644.00,732.10 652.75,744.80 M661.75,729.30 Q657.00,740.10 648.00,752.10 M643.25,730.70 L639.00,735.50 M659.00,723.70 L664.00,730.50 M639.00,735.85 Q644.00,746.45 652.75,759.15 M661.75,743.65 Q657.00,754.45 648.00,766.45 M643.25,745.05 L639.00,749.85 M659.00,738.05 L664.00,744.85 M639.00,750.20 Q644.00,760.80 652.75,773.50 M661.75,758.00 Q657.00,768.80 648.00,780.80 M643.25,759.40 L639.00,764.20 M659.00,752.40 L664.00,759.20 M639.00,764.55 Q644.00,775.15 652.75,787.85 M661.75,772.35 Q657.00,783.15 648.00,795.15 M643.25,773.75 L639.00,778.55 M659.00,766.75 L664.00,773.55 M639.00,778.90 Q644.00,789.50 652.75,802.20 M661.75,786.70 Q657.00,797.50 648.00,809.50 M643.25,788.10 L639.00,792.90 M659.00,781.10 L664.00,787.90 M639.00,793.25 Q644.00,803.85 652.75,816.55 M661.75,801.05 Q657.00,811.85 648.00,823.85 M643.25,802.45 L639.00,807.25 M659.00,795.45 L664.00,802.25 M639.00,807.60 Q644.00,818.20 652.75,830.90 M661.75,815.40 Q657.00,826.20 648.00,838.20 M643.25,816.80 L639.00,821.60 M659.00,809.80 L664.00,816.60 M639.00,821.95 Q644.00,832.55 652.75,845.25 M661.75,829.75 Q657.00,840.55 648.00,852.55 M643.25,831.15 L639.00,835.95 M659.00,824.15 L664.00,830.95 M639.00,836.30 Q644.00,846.90 652.75,859.60 M661.75,844.10 Q657.00,854.90 648.00,866.90 M643.25,845.50 L639.00,850.30 M659.00,838.50 L664.00,845.30 M639.00,850.65 Q644.00,861.25 652.75,873.95 M661.75,858.45 Q657.00,869.25 648.00,881.25 M643.25,859.85 L639.00,864.65 M659.00,852.85 L664.00,859.65 M639.00,865.00 Q644.00,875.60 652.75,888.30 M661.75,872.80 Q657.00,883.60 648.00,895.60 M643.25,874.20 L639.00,879.00 M659.00,867.20 L664.00,874.00 M639.00,879.35 Q644.00,889.95 652.75,902.65 M661.75,887.15 Q657.00,897.95 648.00,909.95 M643.25,888.55 L639.00,893.35 M659.00,881.55 L664.00,888.35"/>
</g>
<path class="k" d="M637.4,437.5 L637.4,880.2 L665,874.2 L665,437.5" style="stroke-width:2.9;stroke-linejoin:miter"/>
<line class="t" x1="639.6999999999999" y1="437.5" x2="639.6999999999999" y2="650" style="stroke:#858585;stroke-width:1.7"/>
<clipPath id="sh2"><path d="M637.4,892.3 L665,887.3 L665,947 L637.4,947 Z"/></clipPath>
<g clip-path="url(#sh2)" class="b">
<path d="M638.40,826.95 Q643.52,837.55 652.48,850.25 M661.70,834.75 Q656.83,845.55 647.62,857.55 M642.75,836.15 L638.40,840.95 M658.88,829.15 L664.00,835.95 M638.40,841.30 Q643.52,851.90 652.48,864.60 M661.70,849.10 Q656.83,859.90 647.62,871.90 M642.75,850.50 L638.40,855.30 M658.88,843.50 L664.00,850.30 M638.40,855.65 Q643.52,866.25 652.48,878.95 M661.70,863.45 Q656.83,874.25 647.62,886.25 M642.75,864.85 L638.40,869.65 M658.88,857.85 L664.00,864.65 M638.40,870.00 Q643.52,880.60 652.48,893.30 M661.70,877.80 Q656.83,888.60 647.62,900.60 M642.75,879.20 L638.40,884.00 M658.88,872.20 L664.00,879.00 M638.40,884.35 Q643.52,894.95 652.48,907.65 M661.70,892.15 Q656.83,902.95 647.62,914.95 M642.75,893.55 L638.40,898.35 M658.88,886.55 L664.00,893.35 M638.40,898.70 Q643.52,909.30 652.48,922.00 M661.70,906.50 Q656.83,917.30 647.62,929.30 M642.75,907.90 L638.40,912.70 M658.88,900.90 L664.00,907.70 M638.40,913.05 Q643.52,923.65 652.48,936.35 M661.70,920.85 Q656.83,931.65 647.62,943.65 M642.75,922.25 L638.40,927.05 M658.88,915.25 L664.00,922.05 M638.40,927.40 Q643.52,938.00 652.48,950.70 M661.70,935.20 Q656.83,946.00 647.62,958.00 M642.75,936.60 L638.40,941.40 M658.88,929.60 L664.00,936.40 M638.40,941.75 Q643.52,952.35 652.48,965.05 M661.70,949.55 Q656.83,960.35 647.62,972.35 M642.75,950.95 L638.40,955.75 M658.88,943.95 L664.00,950.75 M638.40,956.10 Q643.52,966.70 652.48,979.40 M661.70,963.90 Q656.83,974.70 647.62,986.70 M642.75,965.30 L638.40,970.10 M658.88,958.30 L664.00,965.10"/>
</g>
<path class="k" d="M637.4,946.8 L637.4,892.3 L665,887.3 L665,946.8" style="stroke-width:2.9;stroke-linejoin:miter"/>
<rect class="w" x="633.6" y="946.8" width="34.4" height="12.6" rx="2" />
<line class="k3" x1="634" y1="959.4" x2="667.6" y2="959.4" />
<line class="k" x1="640" y1="960.6" x2="640" y2="988.2" style="stroke-width:3.3;stroke-linecap:butt"/>
<line class="k" x1="651.6" y1="960.6" x2="651.6" y2="988.2" style="stroke-width:3.3;stroke-linecap:butt"/>
<line class="k" x1="662.6" y1="960.6" x2="662.6" y2="988.2" style="stroke-width:3.3;stroke-linecap:butt"/>
<line class="m" x1="636.2" y1="960.6" x2="636.2" y2="988.2" />
<line class="m" x1="665.8" y1="960.6" x2="665.8" y2="988.2" />
<rect class="w" x="633.6" y="988.2" width="34.4" height="6.4" rx="3" />
<rect class="k25" x="620.6" y="995.2" width="60.8" height="33.2" rx="3" />
<line class="k" x1="636.6" y1="995.2" x2="636.6" y2="1028.4" />
<line class="k" x1="665.3" y1="995.2" x2="665.3" y2="1028.4" />
<path class="k" d="M600,768.2 L523,768.2 Q520.4,768.2 520.4,771 L520.4,779.4 Q520.4,782.2 523,782.2 L606,782.2" />
<line class="k3" x1="521" y1="769" x2="521" y2="781.4" />
<line class="k" x1="622" y1="768.2" x2="637.4" y2="768.2" />
<line class="k" x1="622" y1="782.2" x2="637.4" y2="782.2" />
<line class="k" x1="665" y1="768.2" x2="928.4" y2="768.2" />
<line class="k" x1="665" y1="782.2" x2="928.4" y2="782.2" />
<circle cx="614.4" cy="775" r="15.2" fill="#fff" stroke="#0a0a0a" stroke-width="4.2"/>
<circle cx="614.4" cy="775" r="12.3" fill="none" stroke="#777" stroke-width="0.8"/>
<circle cx="614.4" cy="775" r="9.6" fill="none" stroke="#0a0a0a" stroke-width="2.5"/>
<line class="k" x1="606" y1="775" x2="622.8" y2="775" style="stroke-width:3.3;stroke-linecap:butt"/>
<g class="dr">
<path class="w" d="M958.4,584.6 C975,575 1000,566 1023,565.3 L1075.2,565.3 C1098,566 1122,575 1137.6,584.6 L1140.6,600.6 L955.4,600.6 Z" />
<line class="k" x1="958.4" y1="584.6" x2="1137.6" y2="584.6" />
<path class="k" d="M985.6,600.6 Q991.8,608 993.5,619 L993.5,626.6 Q993.5,628.6 995.8,629.2 Q998.1,629.8 998.1,632 L998.1,655.6 Q998.1,658 995.8,658.6 Q993.5,659.2 993.5,661.6 L993.5,671" />
<g transform="translate(2096,0) scale(-1,1)">
<path class="k" d="M985.6,600.6 Q991.8,608 993.5,619 L993.5,626.6 Q993.5,628.6 995.8,629.2 Q998.1,629.8 998.1,632 L998.1,655.6 Q998.1,658 995.8,658.6 Q993.5,659.2 993.5,661.6 L993.5,671" />
</g>
<line class="t" x1="993.5" y1="619.8" x2="1102.5" y2="619.8" />
<rect class="k" x="1025.3" y="627.7" width="44.3" height="33.3" rx="7.5" />
<path class="k" d="M966.8,671.3 L1129.7,671.3 L1120.6,690.1 L976.5,690.1 Z" />
<path class="k" d="M972.4,690.1 L1124,690.1 L1137,704 L959.4,704 Z" />
<rect class="k" x="959" y="704" width="178.6" height="5.6" rx="2.6" />
<line class="k3" x1="965.8" y1="712.2" x2="1130.3" y2="712.2" />
<path class="k" d="M984,713.6 Q988,714.4 988.6,717.6" />
<path class="k" d="M1112.6,713.6 Q1108.6,714.4 1108.2,717.6" />
<line class="t" x1="988.6" y1="719.8" x2="1108.2" y2="719.8" />
<path class="k" d="M988.6,717 L988.6,745.8 Q1004,775 988.6,805.4 Q988.6,808 991.6,808 L1105.4,808 Q1108.3,808 1108.3,805.4 L1108.3,717" />
<line class="k" x1="989.6" y1="807.8" x2="1107.4" y2="807.8" />
<line class="k" x1="991" y1="810.6" x2="1106" y2="810.6" />
<line class="t" x1="990" y1="809.2" x2="1107" y2="809.2" style="stroke:#3a3a3a;stroke-width:1.4"/>
<path class="k" d="M990.8,811 L990.8,832.6 Q990.8,837 995.2,837 L1101,837 Q1105.4,837 1105.4,832.6 L1105.4,810" />
<line class="t" x1="995.3" y1="811" x2="995.3" y2="833.6" />
<line class="t" x1="1100.8" y1="811" x2="1100.8" y2="833.6" />
<line class="k" x1="993" y1="833.8" x2="1103" y2="833.8" />
<path class="k" d="M958.5,746.4 L988.6,746.4 M958.5,803.6 L988.6,803.6" />
<rect class="w" x="928.4" y="744" width="30.1" height="62.6" rx="4" />
<line class="t" x1="934" y1="745" x2="934" y2="805.6" />
</g>
</g>
<g id="dimensions">
<line class="t" x1="2" y1="35" x2="2" y2="240" />
<line class="t" x1="395" y1="35" x2="395" y2="240" />
<line class="t" x1="2" y1="43" x2="395" y2="43" />
<polygon class="f" points="2.00,43.00 25.30,36.00 25.30,50.00"/>
<polygon class="f" points="395.00,43.00 371.70,36.00 371.70,50.00"/>
<text x="200" y="28" font-size="34" text-anchor="middle" >145</text>
<line class="t" x1="213" y1="103" x2="462" y2="103" />
<line class="t" x1="282.5" y1="367.1" x2="464.5" y2="367.1" />
<line class="t" x1="248" y1="1028.2" x2="464.6" y2="1028.2" />
<line class="t" x1="457.4" y1="103" x2="457.4" y2="1028.2" />
<polygon class="f" points="457.40,103.00 450.40,126.30 464.40,126.30"/>
<polygon class="f" points="457.40,367.10 450.40,343.80 464.40,343.80"/>
<polygon class="f" points="457.40,367.10 450.40,390.40 464.40,390.40"/>
<polygon class="f" points="457.40,1028.20 450.40,1004.90 464.40,1004.90"/>
<text x="444.6" y="233.6" font-size="34" text-anchor="middle" transform="rotate(-90 444.6 233.6)" >97</text>
<text x="444.8" y="665" font-size="34" text-anchor="middle" transform="rotate(-90 444.8 665)" >min.375</text>
<line class="t" x1="278" y1="416.1" x2="366" y2="416.1" />
<polygon class="f" points="359.00,367.10 352.00,343.80 366.00,343.80"/>
<polygon class="f" points="359.00,416.10 352.00,439.40 366.00,439.40"/>
<text x="359" y="399" font-size="34" text-anchor="middle" >max.40</text>
<path class="t" d="M21,420.7 L107,420.7 L148,378.5" style="stroke-width:1.6"/>
<polygon class="f" points="156,369.5 137.2,379.6 149.6,390.2"/>
<text x="28" y="406" font-size="34" text-anchor="start" >Ø35</text>
<text x="96.5" y="387.6" font-size="16.5" text-anchor="start" >+2</text>
<text x="96.5" y="406" font-size="16.5" text-anchor="start" >- 1</text>
<line class="t" x1="576.2" y1="35" x2="576.2" y2="408.8" />
<line class="t" x1="972" y1="35" x2="972" y2="186" />
<line class="t" x1="576.2" y1="42.4" x2="972" y2="42.4" />
<polygon class="f" points="576.20,42.40 599.50,35.40 599.50,49.40"/>
<polygon class="f" points="972.00,42.40 948.70,35.40 948.70,49.40"/>
<text x="769.3" y="28.6" font-size="34" text-anchor="middle" >146</text>
<line class="t" x1="949.8" y1="200.8" x2="1049.6" y2="200.8" />
<line class="t" x1="711.3" y1="367.2" x2="1049.6" y2="367.2" />
<line class="t" x1="1043" y1="200.8" x2="1043" y2="367.2" />
<polygon class="f" points="1043.00,200.80 1036.00,224.10 1050.00,224.10"/>
<polygon class="f" points="1043.00,367.20 1036.00,343.90 1050.00,343.90"/>
<text x="1029.6" y="288.4" font-size="34" text-anchor="middle" transform="rotate(-90 1029.6 288.4)" >61</text>
<line class="t" x1="943.7" y1="202" x2="943.7" y2="329.8" />
<line class="t" x1="944.7" y1="208.2" x2="965.9" y2="284.5" />
<path class="t" d="M943.7,280 Q954,280 964.2,277.4" />
<polygon class="f" points="943.7,280 919.6,270.4 918.6,284"/>
<line class="t" x1="916.4" y1="276.4" x2="921" y2="277" />
<polygon class="f" points="964.4,277.6 982,262.2 988.2,274.8"/>
<line class="t" x1="985" y1="268.4" x2="989.4" y2="267" />
<text x="886.6" y="251.4" font-size="34" text-anchor="start" transform="rotate(15 886.6 251.4)" letter-spacing="-1.6">15°</text>
<line class="t" x1="640.3" y1="316" x2="640.3" y2="371.4" />
<line class="t" x1="640.3" y1="323" x2="943.7" y2="323" />
<polygon class="f" points="640.30,323.00 663.60,316.00 663.60,330.00"/>
<polygon class="f" points="943.70,323.00 920.40,316.00 920.40,330.00"/>
<text x="808.2" y="309.2" font-size="34" text-anchor="middle" >112</text>
<line class="t" x1="703.8" y1="373.5" x2="703.8" y2="408.8" />
<line class="t" x1="498" y1="402" x2="703.8" y2="402" />
<polygon class="f" points="576.20,402.00 599.50,395.00 599.50,409.00"/>
<polygon class="f" points="703.80,402.00 680.50,395.00 680.50,409.00"/>
<text x="498.4" y="388.3" font-size="34" text-anchor="start" letter-spacing="-1">Ø47</text>
<line class="t" x1="664.5" y1="650.5" x2="1048" y2="650.5" />
<polygon class="f" points="640.90,650.50 664.20,643.50 664.20,657.50"/>
<polygon class="f" points="1048.00,650.50 1024.70,643.50 1024.70,657.50"/>
<line class="t" x1="1048" y1="638" x2="1048" y2="657.2" />
<text x="863.6" y="637.2" font-size="34" text-anchor="middle" >max.150</text>
<line class="t" x1="955.4" y1="518.8" x2="955.4" y2="599" />
<line class="t" x1="1140.6" y1="518.8" x2="1140.6" y2="599" />
<line class="t" x1="955.4" y1="525.6" x2="1140.6" y2="525.6" />
<polygon class="f" points="955.40,525.60 978.70,518.60 978.70,532.60"/>
<polygon class="f" points="1140.60,525.60 1117.30,518.60 1117.30,532.60"/>
<text x="1050.2" y="511.3" font-size="34" text-anchor="middle" >Ø68</text>
<line class="t" x1="1147.8" y1="600.9" x2="1200" y2="600.9" />
<line class="t" x1="1129.7" y1="690.1" x2="1200" y2="690.1" />
<line class="t" x1="1193.2" y1="600.9" x2="1193.2" y2="690.1" />
<polygon class="f" points="1193.20,600.90 1186.20,624.20 1200.20,624.20"/>
<polygon class="f" points="1193.20,690.10 1186.20,666.80 1200.20,666.80"/>
<text x="1180.6" y="646.4" font-size="34" text-anchor="middle" transform="rotate(-90 1180.6 646.4)" >30-50</text>
<line class="t" x1="990.8" y1="840" x2="990.8" y2="890" />
<line class="t" x1="1105.4" y1="840" x2="1105.4" y2="890" />
<line class="t" x1="990.8" y1="882.6" x2="1105.4" y2="882.6" />
<polygon class="f" points="990.80,882.60 1014.10,875.60 1014.10,889.60"/>
<polygon class="f" points="1105.40,882.60 1082.10,875.60 1082.10,889.60"/>
<text x="1047" y="869.5" font-size="34" text-anchor="middle" >G1 1/4</text>
<line class="t" x1="628.6" y1="1030" x2="628.6" y2="1071" />
<line class="t" x1="673.5" y1="1030" x2="673.5" y2="1071" />
<line class="t" x1="575" y1="1063.2" x2="817" y2="1063.2" />
<polygon class="f" points="628.60,1063.20 605.30,1056.20 605.30,1070.20"/>
<polygon class="f" points="673.50,1063.20 696.80,1056.20 696.80,1070.20"/>
<text x="712" y="1050" font-size="34" text-anchor="start" >2xG3/8</text>
</g>
</svg>
</body>
</html>
